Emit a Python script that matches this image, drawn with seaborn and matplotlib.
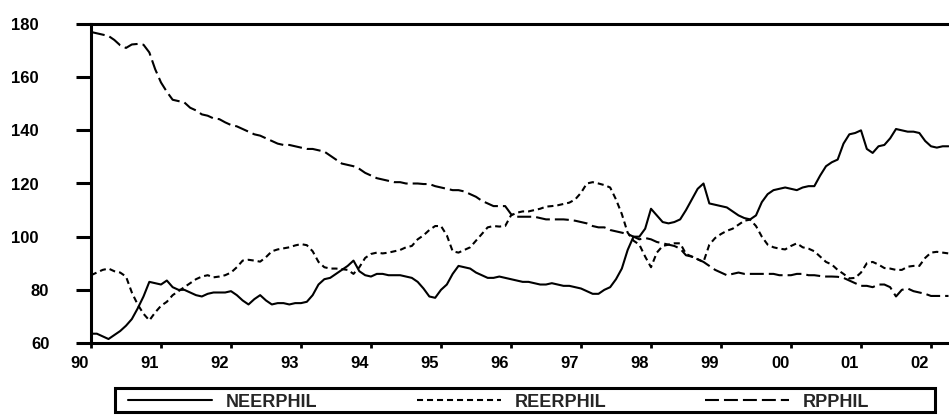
import numpy as np
import pandas as pd
import matplotlib
matplotlib.use("Agg")
import matplotlib.pyplot as plt
import matplotlib.transforms as mtrans
from matplotlib.patches import Rectangle
import seaborn as sns

# ---------------- data (monthly, 1990M1 .. 2002M4) ----------------
start_year = 1990
series_names = ["NEERPHIL", "REERPHIL", "RPPHIL"]

neerphil = [
    63.5, 63.5, 62.5, 61.5, 63, 64.5, 66.5, 69, 73, 77.5, 83, 82.5,        # 1990
    82, 83.5, 81, 80, 80, 79, 78, 77.5, 78.5, 79, 79, 79,                  # 1991
    79.5, 78, 76, 74.5, 76.5, 78, 76, 74.5, 75, 75, 74.5, 75,              # 1992
    75, 75.5, 78, 82, 84, 84.5, 86, 87.5, 89, 91, 87, 85.5,                # 1993
    85, 86, 86, 85.5, 85.5, 85.5, 85, 84.5, 83, 80.5, 77.5, 77,            # 1994
    80, 82, 86, 89, 88.5, 88, 86.5, 85.5, 84.5, 84.5, 85, 84.5,            # 1995
    84, 83.5, 83, 83, 82.5, 82, 82, 82.5, 82, 81.5, 81.5, 81,              # 1996
    80.5, 79.5, 78.5, 78.5, 80, 81, 84, 88, 95, 100, 100, 103,             # 1997
    110.5, 108, 105.5, 105, 105.5, 106.5, 110, 114, 118, 120, 112.5, 112,  # 1998
    111.5, 111, 109.5, 108, 107, 106.5, 108, 113, 116, 117.5, 118, 118.5,  # 1999
    118, 117.5, 118.5, 119, 119, 123, 126.5, 128, 129, 135, 138.5, 139,    # 2000
    140, 133, 131.5, 134, 134.5, 137, 140.5, 140, 139.5, 139.5, 139, 136,  # 2001
    134, 133.5, 134, 134,                                                  # 2002
]

reerphil = [
    85.5, 86.5, 87.5, 88, 87, 86.5, 85, 79, 74.5, 71, 68.5, 71.5,          # 1990
    74, 75.5, 78, 79.5, 81, 82.5, 84, 85, 85.5, 84.7, 85, 85.5,            # 1991
    86.5, 88.5, 91, 91.3, 91, 90.6, 92.3, 94.5, 95.2, 95.6, 96, 96.7,      # 1992
    97.2, 96.8, 94.5, 90.5, 88.5, 88, 88, 87.8, 87.5, 86, 88.5, 92,        # 1993
    93.5, 94, 93.7, 94, 94.5, 95, 96, 96.5, 99, 100.5, 102.5, 104,         # 1994
    104, 100.5, 94.5, 94, 95, 96, 98.5, 101, 103.5, 104, 103.8, 104,       # 1995
    108, 109, 109.5, 109.5, 110, 110.5, 111.3, 111.5, 111.8, 112.3, 112.8, 114,  # 1996
    116.5, 120, 120.5, 120, 119.4, 118.5, 114, 108.5, 101.5, 98.5, 97, 92.5,     # 1997
    88.5, 94, 96.5, 97, 97.5, 97.5, 93.5, 92.5, 91.5, 90.5, 97, 99.5,      # 1998
    101, 102.2, 103, 104.5, 106, 106.4, 104, 100, 97, 96, 95.5, 95.2,      # 1999
    96.5, 97.5, 96, 95.5, 94.5, 92.5, 90.5, 89.5, 87.5, 86, 84.3, 84.5,    # 2000
    86.5, 90, 90.5, 89.5, 88.2, 88, 87.5, 87.5, 88.7, 89, 89, 92,          # 2001
    94, 94.3, 94, 93.7,                                                    # 2002
]

rpphil = [
    177, 176.5, 176, 175.5, 174, 172, 171, 172.3, 172.5, 172.2, 169.3, 163,      # 1990
    158, 154.5, 151.5, 151, 150.5, 148.5, 147.5, 146, 145.5, 144.5, 144.2, 143,  # 1991
    142, 141.5, 140.5, 139.5, 138.5, 138, 137, 136, 135, 134.5, 134.5, 134,      # 1992
    133.5, 133, 133, 132.5, 132, 130.5, 129, 127.5, 127, 126.5, 125.5, 124,      # 1993
    123, 122, 121.5, 121, 120.5, 120.5, 120, 120, 120, 119.8, 119.8, 119,        # 1994
    118.5, 118, 117.5, 117.5, 117, 116, 115, 113.5, 112.5, 111.5, 111.5, 111.5,  # 1995
    108.5, 107.5, 107.5, 107.5, 107.5, 107, 106.5, 106.5, 106.5, 106.5, 106.3, 106,  # 1996
    105.5, 105, 104, 103.5, 103.5, 102.5, 102, 101.5, 101, 100, 99, 99.5,        # 1997
    99, 98, 97.5, 97, 96.5, 95.5, 93, 92.5, 91.5, 90.5, 89, 87.5,                # 1998
    86.5, 85.5, 86, 86.5, 86, 86, 86, 86, 86, 86, 85.5, 85.5,                    # 1999
    85.5, 86, 86, 85.5, 85.5, 85.2, 85, 85, 84.9, 84.5, 83.5, 82.5,              # 2000
    81.5, 81.5, 81, 82, 82, 81, 77.5, 80, 80.5, 79.5, 79, 78.5,                  # 2001
    77.7, 77.7, 77.7, 77.7,                                                      # 2002
]

x_ticks = list(range(1990, 2003))
x_tick_labels = ["90", "91", "92", "93", "94", "95", "96", "97", "98", "99", "00", "01", "02"]
y_ticks = [60, 80, 100, 120, 140, 160, 180]
y_tick_labels = ["60", "80", "100", "120", "140", "160", "180"]

# ---------------- long table ----------------
n = len(neerphil)
t = start_year + np.arange(n) / 12.0
df = pd.DataFrame({
    "t": np.concatenate([t, t, t]),
    "value": neerphil + reerphil + rpphil,
    "series": np.repeat(series_names, n),
})

# ---------------- style ----------------
sns.set_style("white")
plt.rcParams["font.family"] = ["Liberation Sans", "DejaVu Sans"]
plt.rcParams["font.weight"] = "bold"

W, H = 949, 415
fig = plt.figure(figsize=(W / 100, H / 100), dpi=100)
ax = fig.add_axes([91 / W, 1 - 343 / H, 1 - 91 / W, (343 - 24) / H])

lw = 1.5
dash_map = {"NEERPHIL": "", "REERPHIL": (2.9, 1.9), "RPPHIL": (6.7, 2.4)}
sns.lineplot(data=df, x="t", y="value", style="series", dashes=dash_map,
             color="black", linewidth=lw, legend=False, estimator=None, ax=ax)

ax.set_xlim(1990, 1990 + (W - 91) / 70.0)
ax.set_ylim(60, 180)
ax.set_xlabel("")
ax.set_ylabel("")

for side in ["left", "bottom", "top"]:
    ax.spines[side].set_linewidth(2.2)
    ax.spines[side].set_color("black")
ax.spines["right"].set_visible(False)

ax.set_xticks(x_ticks)
ax.set_xticklabels(x_tick_labels)
ax.set_yticks(y_ticks)
ax.set_yticklabels(y_tick_labels)
ax.tick_params(axis="x", which="major", bottom=True, top=False, direction="out",
               length=3.5, width=2, pad=6, labelsize=12, colors="black")
ax.tick_params(axis="y", which="major", left=True, right=False, direction="out",
               length=11, width=2.2, pad=19, labelsize=12, colors="black")

for lab in ax.get_xticklabels():
    lab.set_fontweight("bold")
    lab.set_transform(lab.get_transform() +
                      mtrans.ScaledTranslation(-11 / 100, 0, fig.dpi_scale_trans))
for lab in ax.get_yticklabels():
    lab.set_fontweight("bold")
    if len(lab.get_text()) == 3:
        lab.set_transform(lab.get_transform() +
                          mtrans.ScaledTranslation(-11 / 100, 0, fig.dpi_scale_trans))

# ---------------- legend ----------------
fs = 13
em = fs * 100 / 72.0
leg = fig.legend(ax.lines[:3], series_names, loc="center left",
                 bbox_to_anchor=(128 / W, 1 - 402 / H), bbox_transform=fig.transFigure,
                 ncol=3, frameon=False, borderpad=0, borderaxespad=0,
                 handlelength=84 / em, handletextpad=14 / em, columnspacing=99 / em,
                 prop={"weight": "bold", "size": fs})
fig.add_artist(Rectangle((115 / W, 1 - 412 / H), (935 - 115) / W, 24 / H,
                         transform=fig.transFigure, fill=False, lw=2.2, ec="black"))

fig.savefig("out.png", dpi=100, facecolor="white")
